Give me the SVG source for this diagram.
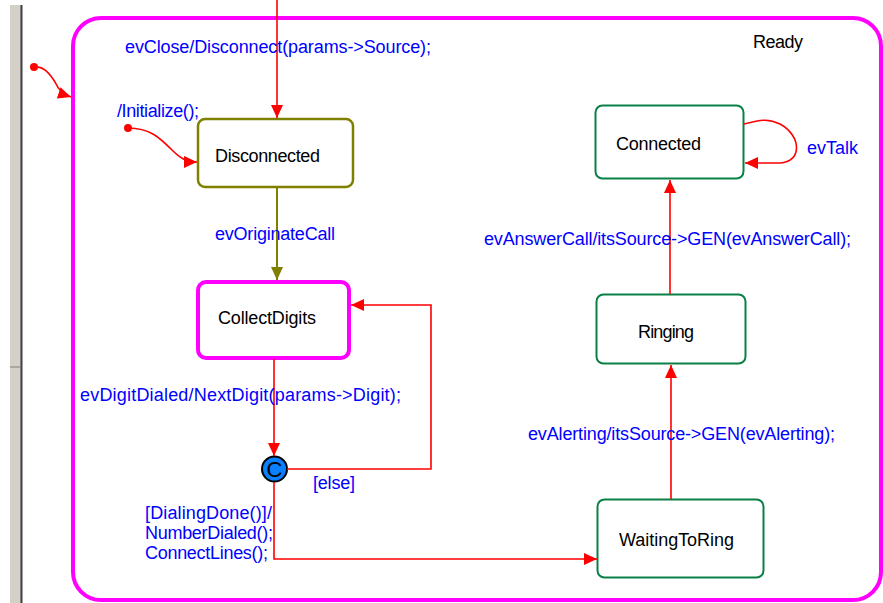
<svg xmlns="http://www.w3.org/2000/svg" width="883" height="603" viewBox="0 0 883 603">
<style>
.lbl{font-family:"Liberation Sans",Arial,sans-serif;font-size:18px;fill:#0000ff}
.st{font-family:"Liberation Sans",Arial,sans-serif;font-size:18px;fill:#000}
.tr{fill:none;stroke:#ff0000;stroke-width:1.6}
.state-g{fill:#fff;stroke:#0a8046;stroke-width:2}
</style>
<defs>
<marker id="ah" markerUnits="userSpaceOnUse" markerWidth="14" markerHeight="12" refX="13" refY="6" orient="auto">
<path d="M0,0 L13,6 L0,12 z" fill="#ff0000"/>
</marker>
<marker id="aho" markerUnits="userSpaceOnUse" markerWidth="14" markerHeight="12" refX="13" refY="6" orient="auto">
<path d="M0,0 L13,6 L0,12 z" fill="#808000"/>
</marker>
</defs>
<rect width="883" height="603" fill="#fff"/>
<g id="sidebar">
<rect x="10" y="5" width="10" height="598" fill="#d4d0c8"/>
<rect x="20" y="5" width="1" height="598" fill="#808080"/>
<rect x="21" y="5" width="1.5" height="598" fill="#404040"/>
<line x1="10" y1="367" x2="20" y2="367" stroke="#808080"/>
</g>
<g id="Ready">
<rect x="73" y="18" width="808" height="582" rx="28" ry="28" fill="none" stroke="#ff00ff" stroke-width="4"/>
<text class="st" x="753" y="48" textLength="50">Ready</text>
</g>
<g id="Disconnected">
<rect x="198" y="119" width="155" height="68" rx="7" fill="#fff" stroke="#808000" stroke-width="2.5"/>
<text class="st" x="215" y="162" textLength="105">Disconnected</text>
</g>
<g id="CollectDigits">
<rect x="198" y="282" width="151" height="76" rx="8" fill="#fff" stroke="#ff00ff" stroke-width="4"/>
<text class="st" x="218" y="324" textLength="98">CollectDigits</text>
</g>
<g id="Connected">
<rect class="state-g" x="595.5" y="105.5" width="148" height="73" rx="7"/>
<text class="st" x="616" y="150" textLength="85">Connected</text>
</g>
<g id="Ringing">
<rect class="state-g" x="596.5" y="294.5" width="149" height="69" rx="7"/>
<text class="st" x="638" y="338" textLength="56">Ringing</text>
</g>
<g id="WaitingToRing">
<rect class="state-g" x="597.5" y="499.5" width="166" height="78" rx="7"/>
<text class="st" x="619" y="546" textLength="115">WaitingToRing</text>
</g>
<g id="cond">
<circle cx="274.5" cy="469" r="12.5" fill="#0a80ff" stroke="#000" stroke-width="2"/>
<text x="274.5" y="477" text-anchor="middle" font-family="Liberation Sans,Arial,sans-serif" font-size="22" fill="#000">C</text>
</g>
<g id="connectors">
<circle cx="34" cy="67" r="4" fill="#ff0000"/>
<path class="tr" d="M34,67 C44,66 50,74 55,82 C58,89 62,94 71,97" marker-end="url(#ah)"/>
<circle cx="128" cy="128" r="4" fill="#ff0000"/>
<path class="tr" d="M128,128 C150,128 160,138 172,150 C180,158 186,162 197,162" marker-end="url(#ah)"/>
<path class="tr" d="M277,0 L277,118" marker-end="url(#ah)"/>
<path d="M277,188 L277,280" fill="none" stroke="#808000" stroke-width="2" marker-end="url(#aho)"/>
<path class="tr" d="M274,359 L274,456" marker-end="url(#ah)"/>
<path class="tr" d="M287,469 L431,469 L431,305 L351,305" marker-end="url(#ah)"/>
<path class="tr" d="M274,482 L274,559 L597,559" marker-end="url(#ah)"/>
<path class="tr" d="M671,499 L671,365" marker-end="url(#ah)"/>
<path class="tr" d="M670,294 L670,180" marker-end="url(#ah)"/>
<path class="tr" d="M744,124 C760,120 768,118 780,124 C802,136 802,162 780,163 L745,163" marker-end="url(#ah)"/>
</g>
<g id="labels">
<text class="lbl" x="125" y="53" textLength="306">evClose/Disconnect(params-&gt;Source);</text>
<text class="lbl" x="117" y="117" textLength="82">/Initialize();</text>
<text class="lbl" x="215" y="240" textLength="120">evOriginateCall</text>
<text class="lbl" x="80" y="401" textLength="321">evDigitDialed/NextDigit(params-&gt;Digit);</text>
<text class="lbl" x="313" y="489" textLength="42">[else]</text>
<text class="lbl" x="145" y="519" textLength="127">[DialingDone()]/</text>
<text class="lbl" x="145" y="539" textLength="128">NumberDialed();</text>
<text class="lbl" x="145" y="559" textLength="123">ConnectLines();</text>
<text class="lbl" x="528" y="440" textLength="307">evAlerting/itsSource-&gt;GEN(evAlerting);</text>
<text class="lbl" x="484" y="245" textLength="367">evAnswerCall/itsSource-&gt;GEN(evAnswerCall);</text>
<text class="lbl" x="807" y="154" textLength="51">evTalk</text>
</g>
</svg>
